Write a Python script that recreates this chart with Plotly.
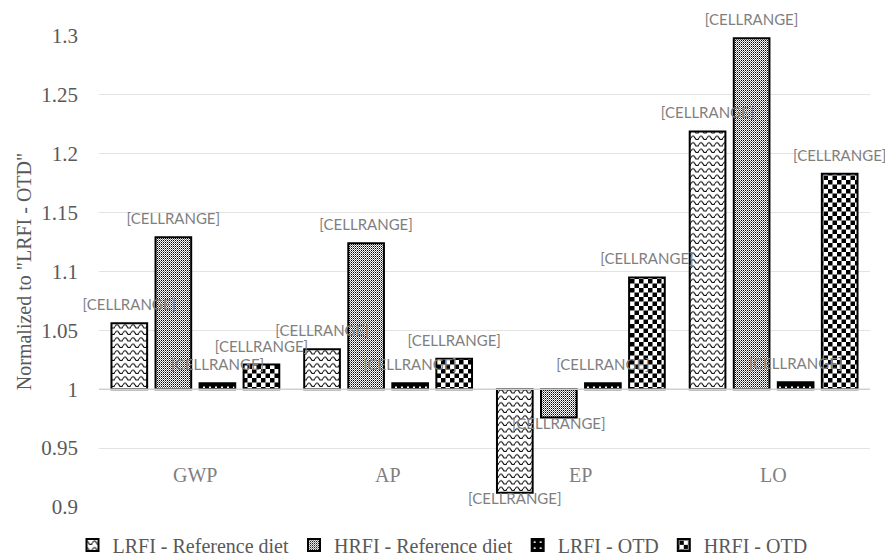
import plotly.graph_objects as go

# Impact categories and the four feeding scenarios
CATEGORIES = ["GWP", "AP", "EP", "LO"]
SERIES = ["LRFI - Reference diet", "HRFI - Reference diet", "LRFI - OTD", "HRFI - OTD"]

# Values normalized to the "LRFI - OTD" scenario
LRFI_REF = [1.056, 1.034, 0.912, 1.219]
HRFI_REF = [1.129, 1.124, 0.976, 1.298]
LRFI_OTD = [1.005, 1.005, 1.005, 1.006]
HRFI_OTD = [1.021, 1.026, 1.095, 1.183]

# Data label text (unresolved cell-range labels)
LABELS = ["[CELLRANGE]", "[CELLRANGE]", "[CELLRANGE]", "[CELLRANGE]"]

# Value axis
BASELINE = 1.0
Y_TICKS = [0.9, 0.95, 1.0, 1.05, 1.1, 1.15, 1.2, 1.25, 1.3]
Y_TICK_LABELS = ["0.9", "0.95", "1", "1.05", "1.1", "1.15", "1.2", "1.25", "1.3"]
Y_TITLE = 'Normalized to "LRFI - OTD"'

SERIF = "Liberation Serif, Times New Roman, serif"
SANS = "Lato, Carlito, Calibri, sans-serif"
GREY_TEXT = "#595959"
LABEL_GREY = "#7f7f7f"

# Native fallback patterns; richer SVG fills are applied after rendering
patterns = [
    dict(shape="-", size=6, solidity=0.2, fgcolor="#000", bgcolor="#fff"),
    dict(shape=".", size=3, solidity=0.45, fgcolor="#000", bgcolor="#fff"),
    dict(shape=".", size=6, solidity=0.1, fgcolor="#fff", bgcolor="#000"),
    dict(shape="+", size=9, solidity=0.5, fgcolor="#000", bgcolor="#fff"),
]

fig = go.Figure()
for name, values, pat in zip(SERIES, [LRFI_REF, HRFI_REF, LRFI_OTD, HRFI_OTD], patterns):
    fig.add_trace(go.Bar(
        name=name,
        x=CATEGORIES,
        y=[v - BASELINE for v in values],
        base=BASELINE,
        text=LABELS,
        textposition="outside",
        textangle=0,
        constraintext="none",
        cliponaxis=False,
        textfont=dict(family=SANS, size=15, color=LABEL_GREY),
        marker=dict(color="#fff", pattern=pat, line=dict(color="#000", width=2)),
        hoverinfo="skip",
    ))

# Category names sit low in the plot, below the baseline
for cat in CATEGORIES:
    fig.add_annotation(
        x=cat, y=0.927, xref="x", yref="y", text=cat, showarrow=False,
        font=dict(family=SERIF, size=20, color=LABEL_GREY),
    )

# Horizontal category axis line crossing at the baseline value
fig.add_shape(type="line", xref="paper", x0=0, x1=1, yref="y", y0=BASELINE, y1=BASELINE,
              line=dict(color="#d0d0d0", width=1.5), layer="above")

fig.update_layout(
    width=885, height=560,
    margin=dict(l=99, r=15, t=36, b=53, autoexpand=False),
    paper_bgcolor="#fff", plot_bgcolor="#fff",
    barmode="group", bargap=0.086, bargroupgap=0.19,
    showlegend=True,
    legend=dict(
        orientation="h", xref="container", yref="container",
        x=0.5, xanchor="center", y=0.027, yanchor="middle",
        font=dict(family=SERIF, size=20, color=GREY_TEXT),
        itemwidth=30, tracegroupgap=0,
    ),
    xaxis=dict(showticklabels=False, showgrid=False, showline=False, zeroline=False,
               range=[-0.5, 3.5]),
    yaxis=dict(
        range=[0.9, 1.3], tickvals=Y_TICKS, ticktext=Y_TICK_LABELS,
        showgrid=True, gridcolor="#e3e3e3", gridwidth=1, zeroline=False, showline=False,
        ticklabelstandoff=20,
        tickfont=dict(family=SERIF, size=21, color=GREY_TEXT),
        title=dict(text=Y_TITLE, font=dict(family=SERIF, size=20, color=GREY_TEXT), standoff=4),
    ),
)

POST_JS = """
var gd = document.getElementById('{plot_id}');
var NS = 'http://www.w3.org/2000/svg';
var svg = gd.querySelector('svg.main-svg');
var defs = svg.querySelector('defs');
if (!defs) { defs = document.createElementNS(NS, 'defs'); svg.insertBefore(defs, svg.firstChild); }
function el(tag, attrs, parent) {
  var e = document.createElementNS(NS, tag);
  Object.keys(attrs).forEach(function (k) { e.setAttribute(k, attrs[k]); });
  parent.appendChild(e);
  return e;
}
function tile(id, w, h, bg) {
  var p = el('pattern', {id: id, patternUnits: 'userSpaceOnUse', width: w, height: h}, defs);
  el('rect', {x: 0, y: 0, width: w, height: h, fill: bg}, p);
  return p;
}
// wavy lines
var wave = tile('fill-wave', 8, 6.5, '#ffffff');
el('path', {d: 'M0,4.5 Q2,0.6 4,4.5 T8,4.5', fill: 'none', stroke: '#000', 'stroke-width': 1.1}, wave);
// fine grey stipple
var stipple = tile('fill-stipple', 2, 2, '#ffffff');
el('rect', {x: 0, y: 0, width: 1, height: 1, fill: '#000'}, stipple);
el('rect', {x: 1, y: 1, width: 1, height: 1, fill: '#777'}, stipple);
// small white dashes on black
var dash = tile('fill-dash', 6, 6, '#000000');
el('rect', {x: 2, y: 2.5, width: 2, height: 1.5, fill: '#ffffff'}, dash);
// checkerboard
var checker = tile('fill-checker', 9, 9, '#ffffff');
el('rect', {x: 0, y: 0, width: 4.5, height: 4.5, fill: '#000'}, checker);
el('rect', {x: 4.5, y: 4.5, width: 4.5, height: 4.5, fill: '#000'}, checker);

var fills = ['fill-wave', 'fill-stipple', 'fill-dash', 'fill-checker'];
var barlayer = gd.querySelector('.barlayer');
var bars = gd.querySelectorAll('.barlayer .trace');
var legend = gd.querySelectorAll('.legend .traces');
fills.forEach(function (id, i) {
  var url = 'url(#' + id + ')';
  if (bars[i]) bars[i].querySelectorAll('.point path').forEach(function (p) { p.style.fill = url; });
  if (legend[i]) legend[i].querySelectorAll('.legendpoints path').forEach(function (p) { p.style.fill = url; });
});

// lift data labels off the bar ends and draw them above every bar
var labelLayer = document.createElementNS(NS, 'g');
labelLayer.setAttribute('class', 'datalabels');
var moves = [];
gd.querySelectorAll('.barlayer .trace .point').forEach(function (pt) {
  var path = pt.querySelector('path');
  var txt = pt.querySelector('text');
  if (!path || !txt) return;
  var pb = path.getBBox();
  var tb = txt.getBBox();
  var above = (tb.y + tb.height / 2) < (pb.y + pb.height / 2);
  var shift = above ? -7 : 7;
  var tr = txt.getAttribute('transform') || '';
  txt.setAttribute('transform', 'translate(0,' + shift + ') ' + tr);
  moves.push(txt);
});
moves.forEach(function (t) { labelLayer.appendChild(t); });
if (barlayer) barlayer.appendChild(labelLayer);
"""

fig.write_html("out.html", post_script=POST_JS)
